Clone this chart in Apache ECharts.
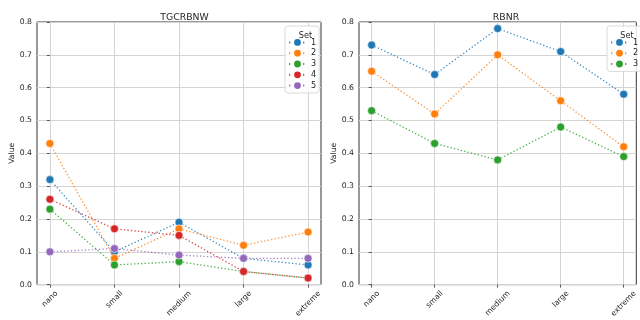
<!DOCTYPE html>
<html>
<head>
<meta charset="utf-8">
<script src="https://cdn.jsdelivr.net/npm/echarts@6/dist/echarts.min.js"></script>
<style>html,body{margin:0;padding:0;background:#fff}#c{width:640px;height:320px}</style>
</head>
<body>
<div id="c"></div>
<script>
const categories = ['nano', 'small', 'medium', 'large', 'extreme'];
const panelTitles = ['TGCRBNW', 'RBNR'];
const tgSet1 = [0.32, 0.10, 0.19, 0.08, 0.06];
const tgSet2 = [0.43, 0.08, 0.17, 0.12, 0.16];
const tgSet3 = [0.23, 0.06, 0.07, 0.04, 0.02];
const tgSet4 = [0.26, 0.17, 0.15, 0.04, 0.02];
const tgSet5 = [0.10, 0.11, 0.09, 0.08, 0.08];
const rbSet1 = [0.73, 0.64, 0.78, 0.71, 0.58];
const rbSet2 = [0.65, 0.52, 0.70, 0.56, 0.42];
const rbSet3 = [0.53, 0.43, 0.38, 0.48, 0.39];
const setNamesLeft = ['1', '2', '3', '4', '5'];
const setNamesRight = ['1', '2', '3'];

const colors = ['#1f77b4', '#ff7f0e', '#2ca02c', '#d62728', '#9467bd'];
const FONT = 'DejaVu Sans';
const TXT = '#262626';
const TICK_FS = 7.7;

// measure text for centered rotated labels (matplotlib ha=center, rotation=45)
const cv = document.createElement('canvas').getContext('2d');
cv.font = TICK_FS + 'px "' + FONT + '"';
const rich = {};
categories.forEach((c, i) => {
  const w = cv.measureText(c).width;
  const h = TICK_FS;
  const p = (w + h) / 2;
  rich['l' + i] = { fontFamily: FONT, fontSize: TICK_FS, color: TXT, padding: [p, p, 0, 0] };
});

const chart = echarts.init(document.getElementById('c'), null, { renderer: 'canvas' });

function xAxisFor(gi) {
  return {
    gridIndex: gi, type: 'value', min: -0.2, max: 4.2,
    axisLine: { show: false },
    axisTick: { show: true, length: 3, lineStyle: { color: '#333', width: 0.8 }, customValues: [0, 1, 2, 3, 4] },
    axisLabel: {
      customValues: [0, 1, 2, 3, 4], rotate: 45, align: 'center', verticalAlign: 'middle', margin: 5,
      fontFamily: FONT, fontSize: TICK_FS, color: TXT,
      formatter: v => { const i = Math.round(v); return '{l' + i + '|' + categories[i] + '}'; },
      rich: rich
    },
    splitLine: { show: true, lineStyle: { color: '#d4d4d4', width: 1 } }
  };
}
function yAxisFor(gi) {
  return {
    gridIndex: gi, type: 'value', min: 0, max: 0.8, interval: 0.1,
    name: 'Value', nameLocation: 'middle', nameGap: 21,
    nameTextStyle: { fontFamily: FONT, fontSize: TICK_FS, color: TXT },
    axisLine: { show: false },
    axisTick: { show: true, length: 3, lineStyle: { color: '#333', width: 0.8 } },
    axisLabel: { fontFamily: FONT, fontSize: TICK_FS, color: TXT, margin: 5, formatter: v => v.toFixed(1) },
    splitLine: { show: true, lineStyle: { color: '#d4d4d4', width: 1 } }
  };
}
function mkSeries(name, vals, ci, gi) {
  return {
    name: name, type: 'line', xAxisIndex: gi, yAxisIndex: gi,
    data: vals.map((v, i) => [i, v]),
    symbol: 'circle', symbolSize: 8,
    itemStyle: { color: colors[ci], borderColor: '#fff', borderWidth: 0.6 },
    lineStyle: { color: colors[ci], width: 1.3, type: [1.3, 2.2], opacity: 0.85 },
    emphasis: { disabled: true }, animation: false, z: 3 + ci
  };
}
const leftSets = [tgSet1, tgSet2, tgSet3, tgSet4, tgSet5];
const rightSets = [rbSet1, rbSet2, rbSet3];
const series = [];
leftSets.forEach((s, i) => series.push(mkSeries(setNamesLeft[i], s, i, 0)));
rightSets.forEach((s, i) => series.push(mkSeries(setNamesRight[i], s, i, 1)));

function legendFor(names, left) {
  return {
    data: names, orient: 'vertical', left: left, top: 26,
    itemWidth: 17, itemHeight: 11, itemGap: 0,
    padding: [11, 3, 2, 3],
    backgroundColor: 'rgba(255,255,255,0.85)', borderColor: '#d0d0d0', borderWidth: 0.8, borderRadius: 3,
    textStyle: { fontFamily: FONT, fontSize: TICK_FS + 0.4, color: TXT, padding: [0, 0, 0, 0] },
    selectedMode: false
  };
}

chart.setOption({
  animation: false,
  backgroundColor: '#fff',
  title: [
    { text: panelTitles[0], left: 179.5, top: 8, textAlign: 'center', textStyle: { fontFamily: FONT, fontSize: 9.3, fontWeight: 'normal', color: TXT } },
    { text: panelTitles[1], left: 501, top: 8, textAlign: 'center', textStyle: { fontFamily: FONT, fontSize: 9.3, fontWeight: 'normal', color: TXT } },
    { text: 'Set', left: 300.5, top: 27, textAlign: 'center', z: 10, textStyle: { fontFamily: FONT, fontSize: TICK_FS + 0.4, fontWeight: 'normal', color: TXT } },
    { text: 'Set', left: 622, top: 27, textAlign: 'center', z: 10, textStyle: { fontFamily: FONT, fontSize: TICK_FS + 0.4, fontWeight: 'normal', color: TXT } }
  ],
  grid: [
    { left: 37, top: 22, width: 284, height: 265, show: true, borderColor: '#333', borderWidth: 1, backgroundColor: 'transparent' },
    { left: 359, top: 22, width: 283, height: 265, show: true, borderColor: '#333', borderWidth: 1, backgroundColor: 'transparent' }
  ],
  xAxis: [xAxisFor(0), xAxisFor(1)],
  yAxis: [yAxisFor(0), yAxisFor(1)],
  legend: [legendFor(setNamesLeft, 285), legendFor(setNamesRight, 607)],
  series: series
});
</script>
</body>
</html>
